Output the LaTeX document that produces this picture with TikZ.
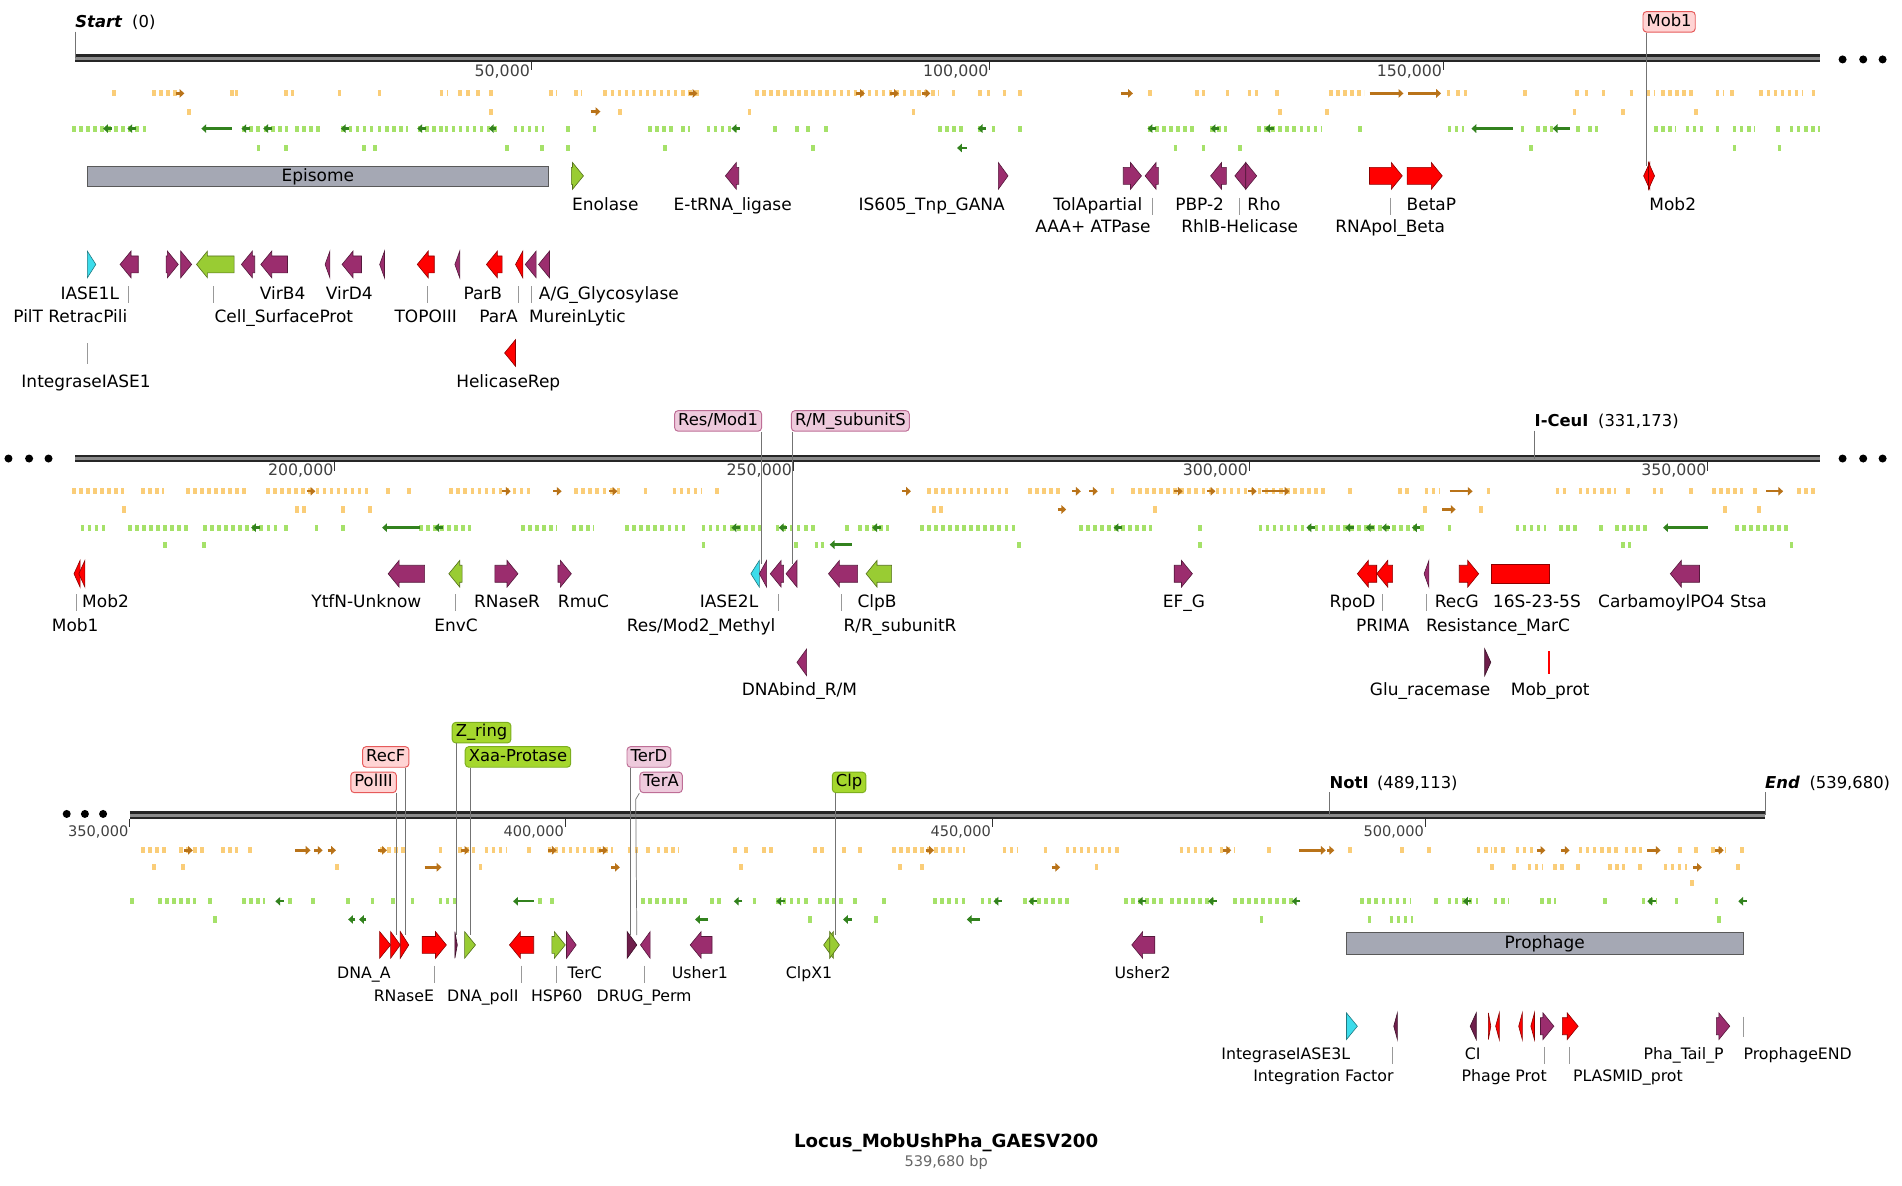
\documentclass[tikz,border=0pt]{standalone}
\usepackage{fontspec}
\setmainfont{DejaVu Sans}
\usetikzlibrary{positioning,arrows.meta}

\definecolor{gpurple}{RGB}{155,45,110}
\definecolor{gdark}{RGB}{110,30,75}
\definecolor{gred}{RGB}{255,0,0}
\definecolor{ggreen}{RGB}{153,204,51}
\definecolor{gcyan}{RGB}{60,220,235}
\definecolor{gbar}{RGB}{165,168,180}
\definecolor{orfo}{RGB}{250,205,120}
\definecolor{orfod}{RGB}{185,115,25}
\definecolor{orfg}{RGB}{165,225,105}
\definecolor{orfgd}{RGB}{50,130,30}
\definecolor{tagred}{RGB}{255,212,212}
\definecolor{tagredd}{RGB}{230,90,90}
\definecolor{tagpink}{RGB}{238,202,220}
\definecolor{tagpinkd}{RGB}{190,110,150}
\definecolor{taggreen}{RGB}{165,215,45}
\definecolor{taggreend}{RGB}{125,175,30}

\tikzset{
  backbone/.style={draw=black!85, line width=2pt, double=black!45, double distance=2.5pt},
  tickm/.style={draw=black!80, line width=0.8pt},
  scalelab/.style={inner sep=0pt, text=black!75, text height=9pt, text depth=2.5pt, font=\fontsize{13}{15}\selectfont},
  site/.style={inner sep=0pt, font=\fontsize{13.5}{16}\selectfont},
  pin/.style={draw=black!55, line width=0.6pt},
  leader/.style={draw=black!40, line width=0.6pt},
  gene/.style={fill=#1, draw=#1!55!black, line width=0.5pt},
  region/.style={draw=black!65, fill=gbar, line width=0.8pt, minimum height=17pt, inner sep=0pt, font=\fontsize{14}{16}\selectfont},
  lab/.style={inner sep=0pt, text height=10pt, text depth=3pt, font=\fontsize{14}{16}\selectfont},
  slab/.style={lab, font=\fontsize{13}{15}\selectfont},
  tag/.style={rounded corners=3pt, line width=0.8pt, inner xsep=3pt, inner ysep=2pt, text height=10pt, text depth=3pt, font=\fontsize{13.5}{16}\selectfont},
  redtag/.style={tag, draw=tagredd, fill=tagred},
  pinktag/.style={tag, draw=tagpinkd, fill=tagpink},
  greentag/.style={tag, draw=taggreend, fill=taggreen},
  orf/.style={#1, line width=5pt, dash pattern=on 3pt off 2.8pt},
  orfarrow/.style={#1, line width=2pt, -{Triangle[length=4pt,width=7pt]}},
}

% ORF marks: y, colour, list of x or x1/x2
\newcommand\orfs[3]{\foreach \a/\b in {#3}{\draw[orf=#2] (\a-1.5,#1) -- (\b+1.5,#1);}}
% ORF arrows: y, colour, list of tail/tip
\newcommand\orfarrows[3]{\foreach \a/\b in {#3}{\draw[orfarrow=#2] (\a,#1) -- (\b,#1);}}
% feature: x1, x2, y, direction (1 or -1), colour
\newcommand\drawgene[5]{%
  \pgfmathsetmacro\gtail{ifthenelse(#4>0,#1,#2)}%
  \pgfmathsetmacro\gtip{ifthenelse(#4>0,#2,#1)}%
  \pgfmathsetmacro\ghead{\gtip-(#4)*min(9,#2-#1)}%
  \filldraw[gene=#5] (\gtail,#3-7) -- (\ghead,#3-7) -- (\ghead,#3-11) -- (\gtip,#3)
    -- (\ghead,#3+11) -- (\ghead,#3+7) -- (\gtail,#3+7) -- cycle;}

\begin{document}
\begin{tikzpicture}[x=1pt,y=-1pt]
\useasboundingbox (0,0) rectangle (1568,977);

% ORF tracks, row 1
\orfs{77}{orfo}{94, 127/147, 191, 195, 236, 241, 280, 313, 364/368, 379, 386, 394, 405, 454/458, 475/478, 499/577, 624/772, 786, 808, 815, 828, 841, 948, 987, 992, 1012, 1030/1036, 1053, 1097/1123, 1194, 1202, 1208, 1257, 1300, 1308, 1322, 1345, 1359/1362, 1371/1395, 1416/1420, 1428, 1452/1484, 1495}
\orfarrows{77}{orfod}{145/152, 568/575, 706/713, 734/741, 760/767, 924/934, 1129/1157, 1161/1188}
\orfs{92}{orfo}{156, 405, 511, 618, 753, 1055, 1094, 1298, 1338, 1398}
\orfarrows{92}{orfod}{487/495}
\orfs{106}{orfg}{61/121, 201/214, 219/236, 245/265, 283/306, 313/335, 346/364, 368/409, 425/447, 468, 490, 536/554, 563/567, 584/606, 639, 657, 666, 681, 775/794, 808, 819, 841, 948/983, 999/1010, 1038/1088, 1121, 1195/1205, 1255, 1268/1279, 1301, 1311/1316, 1365/1380, 1391/1403, 1416, 1430/1445, 1466, 1477/1499}
\orfarrows{106}{orfgd}{92/85, 112/105, 191/166, 206/199, 224/217, 288/281, 351/344, 409/403, 610/603, 813/806, 953/946, 1005/998, 1050/1043, 1247/1213, 1294/1280}
\orfs{122}{orfg}{213, 236, 300, 309, 418, 447, 468, 548, 670, 969, 992, 1022, 1262, 1430, 1467}
\orfarrows{122}{orfgd}{797/789}

% ORF tracks, row 2
\orfs{405}{orfo}{61/101, 118/134, 155/201, 221/302, 320, 337, 372/438, 475/512, 532, 556/577, 591, 766/830, 849/873, 917, 934/1091, 1113, 1154/1160, 1176/1186, 1227, 1284/1290, 1303/1331, 1342, 1364/1372, 1394, 1413/1435, 1447, 1483/1496}
\orfarrows{405}{orfod}{253/260, 414/421, 456/463, 502/509, 744/751, 884/891, 898/905, 968/975, 995/1002, 1029/1036, 1040/1063, 1195/1214, 1456/1470}
\orfs{420}{orfo}{102, 245/252, 283, 305, 770/777, 952, 1175, 1221, 1422, 1450}
\orfarrows{420}{orfod}{872/879, 1189/1200}
\orfs{435}{orfg}{68/88, 107/155, 169/228, 236, 261, 283, 347/387, 431/458, 473/488, 517/563, 580/628, 641/672, 698, 709/731, 760/836, 891/948, 989, 1039/1173, 1195, 1251/1273, 1287/1300, 1320, 1333/1357, 1432/1474}
\orfarrows{435}{orfgd}{214/207, 346/315, 365/358, 610/603, 649/642, 726/719, 925/918, 1084/1077, 1116/1109, 1133/1126, 1146/1139, 1171/1164, 1408/1371}
\orfs{449}{orfg}{136, 168, 580, 656, 673, 678, 840, 989, 1338/1343, 1477}
\orfarrows{449}{orfgd}{702/684}

% ORF tracks, row 3
\orfs{701}{orfo}{118/138, 149/169, 184/195, 206, 315/335, 363, 379/390, 401/416, 436, 453/504, 519/525, 534, 543/558, 606, 615, 630/637, 672/679, 696, 709, 737/794, 828/838, 862, 880/922, 974/992, 998, 1007/1016, 1046, 1113, 1156, 1178, 1219/1228, 1233/1240, 1251/1265, 1303/1334, 1341/1352, 1385, 1398, 1412/1421, 1436}
\orfarrows{701}{orfod}{152/159, 243/256, 259/266, 270/277, 312/319, 380/387, 452/459, 494/501, 763/770, 1008/1015, 1071/1093, 1094/1100, 1267/1274, 1287/1294, 1358/1369, 1414/1421}
\orfs{715}{orfo}{127, 151, 278, 396, 611, 742, 760, 904, 1230, 1248, 1261/1270, 1282/1289, 1301, 1327/1338, 1352, 1373/1389, 1433}
\orfarrows{715}{orfod}{350/364, 504/511, 867/874, 1396/1403}
\orfs{728}{orfo}{1395}
\orfs{743}{orfg}{109, 132/160, 173, 201/217, 239, 258, 287, 307, 324, 340, 363/376, 445, 455, 530/565, 587/595, 622, 641/665, 676/696, 705, 729, 771/794, 810/821, 845/880, 928/959, 966/999, 1018/1066, 1123/1161, 1184, 1195/1217, 1233/1242, 1271/1281, 1323, 1355/1364, 1382, 1415}
\orfarrows{743}{orfgd}{234/227, 440/423, 612/605, 647/640, 826/819, 855/848, 945/938, 1003/996, 1072/1065, 1213/1206, 1365/1358, 1440/1433}
\orfs{758}{orfg}{177, 668, 722, 1040, 1129, 1147/1163, 1417}
\orfarrows{758}{orfgd}{293/287, 302/296, 584/573, 702/695, 808/797}

% backbones
\coordinate (r1s) at (62,48);  \coordinate (r1e) at (1500,48);
\coordinate (r2s) at (62,378); \coordinate (r2e) at (1500,378);
\coordinate (r3s) at (107,672); \coordinate (r3e) at (1455,672);
\draw[backbone] (r1s) -- (r1e);
\draw[backbone] (r2s) -- (r2e);
\draw[backbone] (r3s) -- (r3e);
\foreach \x in {1519,1536,1552} {\fill (\x,49) circle (3.3pt); \fill (\x,378) circle (3.3pt);}
\foreach \x in {7,24,40} \fill (\x,378) circle (3.3pt);
\foreach \x in {55,70,85} \fill (\x,671) circle (3.3pt);

% scale
\foreach \x/\t [count=\i] in {438/{50,000}, 816/{100,000}, 1190/{150,000}} {
  \draw[tickm] (\x,51) -- (\x,58);
  \node[scalelab, anchor=north east] (ka\i) at (\x-1,54) {\t};
}
\foreach \x/\t [count=\i] in {276/{200,000}, 654/{250,000}, 1030/{300,000}, 1408/{350,000}} {
  \draw[tickm] (\x,381) -- (\x,388);
  \node[scalelab, anchor=north east] (kb\i) at (\x-1,383) {\t};
}
\foreach \x/\t [count=\i] in {107/{350,000}, 466/{400,000}, 818/{450,000}, 1175/{500,000}} {
  \draw[tickm] (\x,675) -- (\x,682);
  \node[scalelab, anchor=north east, font=\fontsize{12}{14}\selectfont] (kc\i) at (\x-1,680) {\t};
}

% sites
\node[site, anchor=base west] (s-start) at (62,23) {\textbf{\textit{Start}}\hspace{8pt}(0)};
\draw[pin] (s-start.base west) ++(0,3) -- (r1s);
\node[site, anchor=base west] (s-iceu) at (1265,352) {\textbf{I-CeuI}\hspace{8pt}(331,173)};
\draw[pin] (s-iceu.base west) ++(0,3) -- (s-iceu.base west |- r2s);
\node[site, anchor=base west] (s-noti) at (1096,650) {\textbf{NotI}\hspace{7pt}(489,113)};
\draw[pin] (s-noti.base west) ++(0,3) -- (s-noti.base west |- r3s);
\node[site, anchor=base west] (s-end) at (1455,650) {\textbf{\textit{End}}\hspace{8pt}(539,680)};
\draw[pin] (s-end.base west) ++(0,3) -- (r3e);

% tags and their pins
\node[redtag] (b-mob1) at (1376,18) {Mob1};
\node[pinktag] (b-resmod1) at (592,347) {Res/Mod1};
\node[pinktag] (b-rmsubs) at (701,347) {R/M\_subunitS};
\node[greentag] (b-zring) at (397,604) {Z\_ring};
\node[redtag] (b-recf) at (318,624) {RecF};
\node[greentag] (b-xaa) at (427,624) {Xaa-Protase};
\node[pinktag] (b-terd) at (535,624) {TerD};
\node[redtag] (b-pol3) at (308,645) {PolIII};
\node[pinktag] (b-tera) at (545,645) {TerA};
\node[greentag] (b-clp) at (700,645) {Clp};

\coordinate (f-mob1) at (1357,137);
\coordinate (f-resmod1) at (628,465);
\coordinate (f-rmsubs) at (653,465);
\coordinate (f-pol3) at (327,771);
\coordinate (f-recf) at (334,771);
\coordinate (f-zring) at (376,771);
\coordinate (f-xaa) at (388,771);
\coordinate (f-terd) at (520,771);
\coordinate (f-tera) at (525,771);
\coordinate (f-clp) at (689,771);
\draw[pin] (b-mob1.south -| f-mob1) -- (f-mob1);
\draw[pin] (b-resmod1.south -| f-resmod1) -- (f-resmod1);
\draw[pin] (b-rmsubs.south -| f-rmsubs) -- (f-rmsubs);
\draw[pin] (b-pol3.south -| f-pol3) -- (f-pol3);
\draw[pin] (b-recf.south -| f-recf) -- (f-recf);
\draw[pin] (b-zring.south -| f-zring) -- (f-zring);
\draw[pin] (b-xaa.south -| f-xaa) -- (f-xaa);
\draw[pin] (b-terd.south -| f-terd) -- (f-terd);
\draw[pin] (b-tera.south west) -- ++(-3,5) -- (f-tera);
\draw[pin] (b-clp.south -| f-clp) -- (f-clp);

% features, row 1
\node[region, minimum width=380pt] (episome) at (262,145.5) {Episome};
\foreach \a/\b/\d/\c in {471/481/1/ggreen, 598/609/-1/gpurple, 823/831/1/gpurple, 926/941/1/gpurple, 944/955/-1/gpurple, 998/1011/-1/gpurple, 1018/1027/-1/gpurple, 1027/1036/1/gpurple, 1129/1156/1/gred, 1160/1189/1/gred, 1355/1360/-1/gred, 1359/1364/1/gred}
  {\drawgene{\a}{\b}{145}{\d}{\c}}
\foreach \a/\b/\d/\c in {72/79/1/gcyan, 99/114/-1/gpurple, 137/147/1/gpurple, 149/158/1/gpurple, 162/193/-1/ggreen, 199/210/-1/gpurple, 215/237/-1/gpurple, 268/272/-1/gpurple, 282/298/-1/gpurple, 313/317/-1/gpurple, 344/358/-1/gred, 375/379/-1/gpurple, 401/414/-1/gred, 425/431/-1/gred, 433/442/-1/gpurple, 444/453/-1/gpurple}
  {\drawgene{\a}{\b}{218}{\d}{\c}}
\drawgene{416}{425}{291}{-1}{gred}

% features, row 2
\foreach \a/\b/\d/\c in {61/66/-1/gred, 65/70/-1/gred, 320/350/-1/gpurple, 370/381/-1/ggreen, 408/427/1/gpurple, 460/471/1/gpurple, 619/626/-1/gcyan, 626/632/-1/gpurple, 635/646/-1/gpurple, 648/657/-1/gpurple, 683/707/-1/gpurple, 714/735/-1/ggreen, 968/983/1/gpurple, 1119/1135/-1/gred, 1135/1148/-1/gred, 1174/1178/-1/gpurple, 1203/1219/1/gred, 1377/1401/-1/gpurple}
  {\drawgene{\a}{\b}{473}{\d}{\c}}
\filldraw[gene=gred] (1229,465) rectangle (1277,481);
\drawgene{657}{665}{546}{-1}{gpurple}
\drawgene{1224}{1229}{546}{1}{gdark}
\draw[gred, line width=1pt] (1277,537) -- (1277,556);

% features, row 3
\node[region, minimum width=327pt, minimum height=18pt] (prophage) at (1273.5,778) {Prophage};
\foreach \a/\b/\d/\c in {313/322/1/gred, 322/330/1/gred, 330/337/1/gred, 348/368/1/gred, 375/377/1/gdark, 383/392/1/ggreen, 420/440/-1/gred, 455/466/1/ggreen, 467/475/1/gpurple, 517/525/1/gdark, 528/536/-1/gpurple, 569/587/-1/gpurple, 679/687/-1/ggreen, 684/692/1/ggreen, 933/952/-1/gpurple}
  {\drawgene{\a}{\b}{779}{\d}{\c}}
\foreach \a/\b/\d/\c in {1110/1119/1/gcyan, 1149/1152/-1/gdark, 1212/1217/-1/gdark, 1227/1229/1/gred, 1233/1236/-1/gred, 1252/1255/-1/gred, 1262/1265/-1/gred, 1270/1281/1/gpurple, 1288/1301/1/gred, 1415/1426/1/gpurple}
  {\drawgene{\a}{\b}{846}{\d}{\c}}
\draw[leader] (1437,838) -- (1437,855);

% leader ticks
\foreach \x/\y in {950/170, 1022/170, 1146/170, 106/243, 176/243, 352/243, 427/243, 438/243, 63/497, 375/497, 642/497, 694/497, 1140/497, 1176/497, 358/803, 430/803, 459/803, 531/803, 1148/870, 1273/870, 1294/870}
  \draw[leader] (\x,\y-7) -- (\x,\y+7);
\draw[leader] (72,283) -- (72,300);

% labels, row 1
\node[lab] (l-enol) at (499,170) {Enolase};
\node[lab] (l-etrna) at (604,170) {E-tRNA\_ligase};
\node[lab] (l-is605) at (768,170) {IS605\_Tnp\_GANA};
\node[lab] (l-tola) at (905,170) {TolApartial};
\node[lab] (l-aaa) at (901,188) {AAA+ ATPase};
\node[lab] (l-pbp2) at (989,170) {PBP-2};
\node[lab] (l-rho) at (1042,170) {Rho};
\node[lab] (l-rhlb) at (1022,188) {RhlB-Helicase};
\node[lab] (l-betap) at (1180,170) {BetaP};
\node[lab] (l-rnapol) at (1146,188) {RNApol\_Beta};
\node[lab] (l-mob2a) at (1379,170) {Mob2};
\node[lab] (l-iase1l) at (74,243) {IASE1L};
\node[lab] (l-pilt) at (58,262) {PilT RetracPili};
\node[lab] (l-virb4) at (233,243) {VirB4};
\node[lab] (l-vird4) at (288,243) {VirD4};
\node[lab] (l-cellsp) at (234,262) {Cell\_SurfaceProt};
\node[lab] (l-topo) at (351,262) {TOPOIII};
\node[lab] (l-parb) at (398,243) {ParB};
\node[lab] (l-agg) at (502,243) {A/G\_Glycosylase};
\node[lab] (l-para) at (411,262) {ParA};
\node[lab] (l-murein) at (476,262) {MureinLytic};
\node[lab] (l-int1) at (71,316) {IntegraseIASE1};
\node[lab] (l-helrep) at (419,316) {HelicaseRep};

% labels, row 2
\node[lab] (l-mob2b) at (87,497) {Mob2};
\node[lab] (l-mob1b) at (62,517) {Mob1};
\node[lab] (l-ytfn) at (302,497) {YtfN-Unknow};
\node[lab] (l-envc) at (376,517) {EnvC};
\node[lab] (l-rnaser) at (418,497) {RNaseR};
\node[lab] (l-rmuc) at (481,497) {RmuC};
\node[lab] (l-iase2l) at (601,497) {IASE2L};
\node[lab] (l-resmod2) at (578,517) {Res/Mod2\_Methyl};
\node[lab] (l-clpb) at (723,497) {ClpB};
\node[lab] (l-rrsub) at (742,517) {R/R\_subunitR};
\node[lab] (l-efg) at (976,497) {EF\_G};
\node[lab] (l-rpod) at (1115,497) {RpoD};
\node[lab] (l-prima) at (1140,517) {PRIMA};
\node[lab] (l-recg) at (1201,497) {RecG};
\node[lab] (l-rrna) at (1267,497) {16S-23-5S};
\node[lab] (l-marc) at (1235,517) {Resistance\_MarC};
\node[lab] (l-carb) at (1387,497) {CarbamoylPO4 Stsa};
\node[lab] (l-dnabind) at (659,570) {DNAbind\_R/M};
\node[lab] (l-glu) at (1179,570) {Glu\_racemase};
\node[lab] (l-mobprot) at (1278,570) {Mob\_prot};

% labels, row 3
\node[slab] (l-dnaa) at (300,803) {DNA\_A};
\node[slab] (l-rnasee) at (333,822) {RNaseE};
\node[slab] (l-dnapol) at (398,822) {DNA\_polI};
\node[slab] (l-terc) at (482,803) {TerC};
\node[slab] (l-hsp60) at (459,822) {HSP60};
\node[slab] (l-drug) at (531,822) {DRUG\_Perm};
\node[slab] (l-usher1) at (577,803) {Usher1};
\node[slab] (l-clpx1) at (667,803) {ClpX1};
\node[slab] (l-usher2) at (942,803) {Usher2};
\node[slab] (l-int3) at (1060,870) {IntegraseIASE3L};
\node[slab] (l-intf) at (1091,888) {Integration Factor};
\node[slab] (l-ci) at (1214,870) {CI};
\node[slab] (l-phprot) at (1240,888) {Phage Prot};
\node[slab] (l-plasmid) at (1342,888) {PLASMID\_prot};
\node[slab] (l-phatail) at (1388,870) {Pha\_Tail\_P};
\node[slab] (l-pend) at (1482,870) {ProphageEND};

% title
\node[inner sep=0pt, font=\bfseries\fontsize{15}{18}\selectfont] (title) at (780,942) {Locus\_MobUshPha\_GAESV200};
\node[below=3pt of title, inner sep=0pt, text=black!60, font=\fontsize{12}{14}\selectfont] (bplen) {539,680 bp};
\end{tikzpicture}
\end{document}
